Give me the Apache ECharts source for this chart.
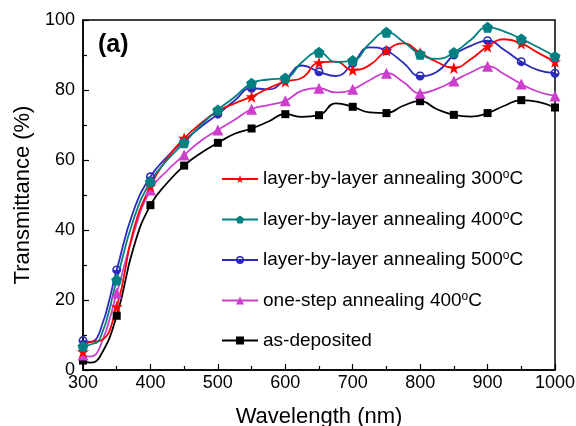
<!DOCTYPE html>
<html>
<head>
<meta charset="utf-8">
<script src="https://cdn.jsdelivr.net/npm/echarts@6/dist/echarts.min.js"></script>
<style>
  html, body { margin: 0; padding: 0; background: #fff; }
  #chart { width: 576px; height: 426px; }
</style>
</head>
<body>
<div id="chart"></div>
<script>
// Wavelength sampling (nm); markers are drawn on the 50 nm points
var wavelength = [300, 310, 325, 350, 375, 400, 425, 450, 475, 500, 525, 550, 575, 600, 625, 650, 675, 700, 725, 750, 775, 800, 825, 850, 875, 900, 925, 950, 975, 1000];

// Transmittance (%) for each sample
var lbl300 = [5.2, 8.0, 8.3, 18.1, 40.0, 52.5, 60.5, 66.2, 70.5, 74.0, 76.2, 78.1, 80.5, 82.4, 83.5, 87.8, 88.1, 85.7, 87.1, 91.3, 93.3, 90.6, 88.0, 86.3, 88.8, 92.4, 94.5, 93.3, 90.6, 88.1];
var lbl400 = [6.7, 7.2, 8.8, 25.7, 43.0, 53.8, 60.0, 64.9, 70.0, 74.3, 78.0, 81.9, 83.0, 83.4, 88.0, 90.8, 88.0, 88.4, 93.3, 96.5, 93.8, 90.2, 88.9, 90.7, 94.3, 97.9, 96.7, 94.6, 92.2, 89.6];
var lbl500 = [8.4, 8.0, 11.0, 28.6, 45.5, 55.2, 61.0, 65.5, 69.5, 73.1, 77.0, 80.5, 80.2, 83.0, 87.0, 85.2, 84.0, 87.6, 92.2, 91.2, 87.8, 84.0, 85.2, 90.0, 92.6, 94.1, 91.4, 88.1, 85.7, 84.8];
var oneStep400 = [4.3, 3.8, 6.5, 21.9, 39.0, 51.4, 57.0, 61.4, 65.5, 68.6, 71.5, 74.5, 75.7, 76.9, 79.8, 80.5, 79.3, 80.2, 82.8, 84.8, 82.3, 79.1, 80.3, 82.6, 85.0, 86.8, 84.5, 81.7, 79.5, 78.3];
var asDeposited = [2.7, 2.1, 3.8, 15.5, 35.0, 47.1, 53.5, 58.4, 62.0, 64.9, 67.5, 69.0, 71.0, 73.1, 72.3, 72.8, 76.2, 75.2, 73.6, 73.4, 75.5, 76.8, 74.5, 72.9, 72.4, 73.4, 75.5, 77.1, 76.6, 75.0];

var xTicks = [300, 1000, 100];
var yTicks = [0, 100, 20];

var FONT = '"Liberation Sans", Arial, sans-serif';

var STAR = 'path://M10,0L12.35,6.9L19.5,6.9L13.8,11.1L15.9,18.1L10,14L4.1,18.1L6.2,11.1L0.5,6.9L7.65,6.9Z';
var PENTAGON = 'path://M10,0L19.5,6.9L15.9,18.1L4.1,18.1L0.5,6.9Z';
var HALF_CIRCLE = 'path://M10,0A10,10,0,1,1,10,20A10,10,0,1,1,10,0ZM10,3.5A6.5,6.5,0,1,0,10,16.5A6.5,6.5,0,1,0,10,3.5ZM3.5,10A6.5,6.5,0,0,0,16.5,10Z';

function points(values) {
  return wavelength.map(function (w, i) {
    var item = { value: [w, values[i]] };
    if (w % 50 !== 0) item.symbol = 'none';
    return item;
  });
}

function lineSeries(name, values, color, symbol, size) {
  return {
    name: name,
    type: 'line',
    smooth: 0.5,
    data: points(values),
    symbol: symbol,
    symbolSize: size,
    showAllSymbol: true,
    lineStyle: { color: color, width: 1.8 },
    itemStyle: { color: color, borderWidth: 0 },
    emphasis: { disabled: true },
    z: 3
  };
}

var names = [
  'layer-by-layer annealing 300',
  'layer-by-layer annealing 400',
  'layer-by-layer annealing 500',
  'one-step annealing 400',
  'as-deposited'
];

var chart = echarts.init(document.getElementById('chart'), null, { renderer: 'canvas' });

chart.setOption({
  animation: false,
  backgroundColor: '#ffffff',
  textStyle: { fontFamily: FONT },
  grid: {
    left: 83, right: 21, top: 20, bottom: 56,
    containLabel: false,
    outerBoundsMode: 'none',
    show: true, borderColor: '#000', borderWidth: 1.5, backgroundColor: 'transparent'
  },
  xAxis: {
    type: 'value',
    min: xTicks[0], max: xTicks[1], interval: xTicks[2],
    name: 'Wavelength (nm)',
    nameLocation: 'middle',
    nameGap: 36,
    nameTextStyle: { fontFamily: FONT, fontSize: 22, color: '#000' },
    axisLine: { show: true, onZero: false, lineStyle: { color: '#000', width: 1.5 } },
    axisTick: { show: true, inside: true, length: 6, lineStyle: { color: '#000', width: 1.2 } },
    minorTick: { show: true, splitNumber: 2, length: 4, lineStyle: { color: '#000', width: 1.2 } },
    axisLabel: {
      fontFamily: FONT, fontSize: 18, color: '#000', margin: 4,
      formatter: function (v) { return String(v); }
    },
    splitLine: { show: false }
  },
  yAxis: {
    type: 'value',
    min: yTicks[0], max: yTicks[1], interval: yTicks[2],
    name: 'Transmittance (%)',
    nameLocation: 'middle',
    nameGap: 48,
    nameTextStyle: { fontFamily: FONT, fontSize: 22, color: '#000' },
    axisLine: { show: true, onZero: false, lineStyle: { color: '#000', width: 1.5 } },
    axisTick: { show: true, inside: true, length: 6, lineStyle: { color: '#000', width: 1.2 } },
    minorTick: { show: true, splitNumber: 2, length: 4, lineStyle: { color: '#000', width: 1.2 } },
    axisLabel: {
      fontFamily: FONT, fontSize: 18, color: '#000', margin: 8,
      formatter: function (v) { return String(v); }
    },
    splitLine: { show: false }
  },
  legend: {
    orient: 'vertical',
    left: 216,
    top: 164,
    itemWidth: 36,
    itemHeight: 10,
    itemGap: 19.5,
    data: names,
    formatter: function (n) {
      if (n === 'as-deposited') return '{t|' + n + '}';
      return '{t|' + n + '}{s|o}{t|C}';
    },
    textStyle: {
      fontFamily: FONT,
      fontSize: 19,
      color: '#000',
      rich: {
        t: { fontFamily: FONT, fontSize: 19, lineHeight: 20, color: '#000' },
        s: { fontFamily: FONT, fontSize: 12, lineHeight: 20, color: '#000', verticalAlign: 'top', padding: [0, 0, 9, 0] }
      }
    }
  },
  graphic: [{
    type: 'text',
    left: 98,
    top: 33,
    style: { text: '(a)', font: 'bold 25px ' + FONT, fill: '#000' }
  }],
  series: [
    lineSeries(names[4], asDeposited, '#000000', 'rect', 8),
    lineSeries(names[3], oneStep400, '#CC3FCC', 'triangle', 11),
    lineSeries(names[2], lbl500, '#2A2ABE', HALF_CIRCLE, 9),
    lineSeries(names[0], lbl300, '#FF0000', STAR, 12),
    lineSeries(names[1], lbl400, '#008080', PENTAGON, 11)
  ]
});
</script>
</body>
</html>
